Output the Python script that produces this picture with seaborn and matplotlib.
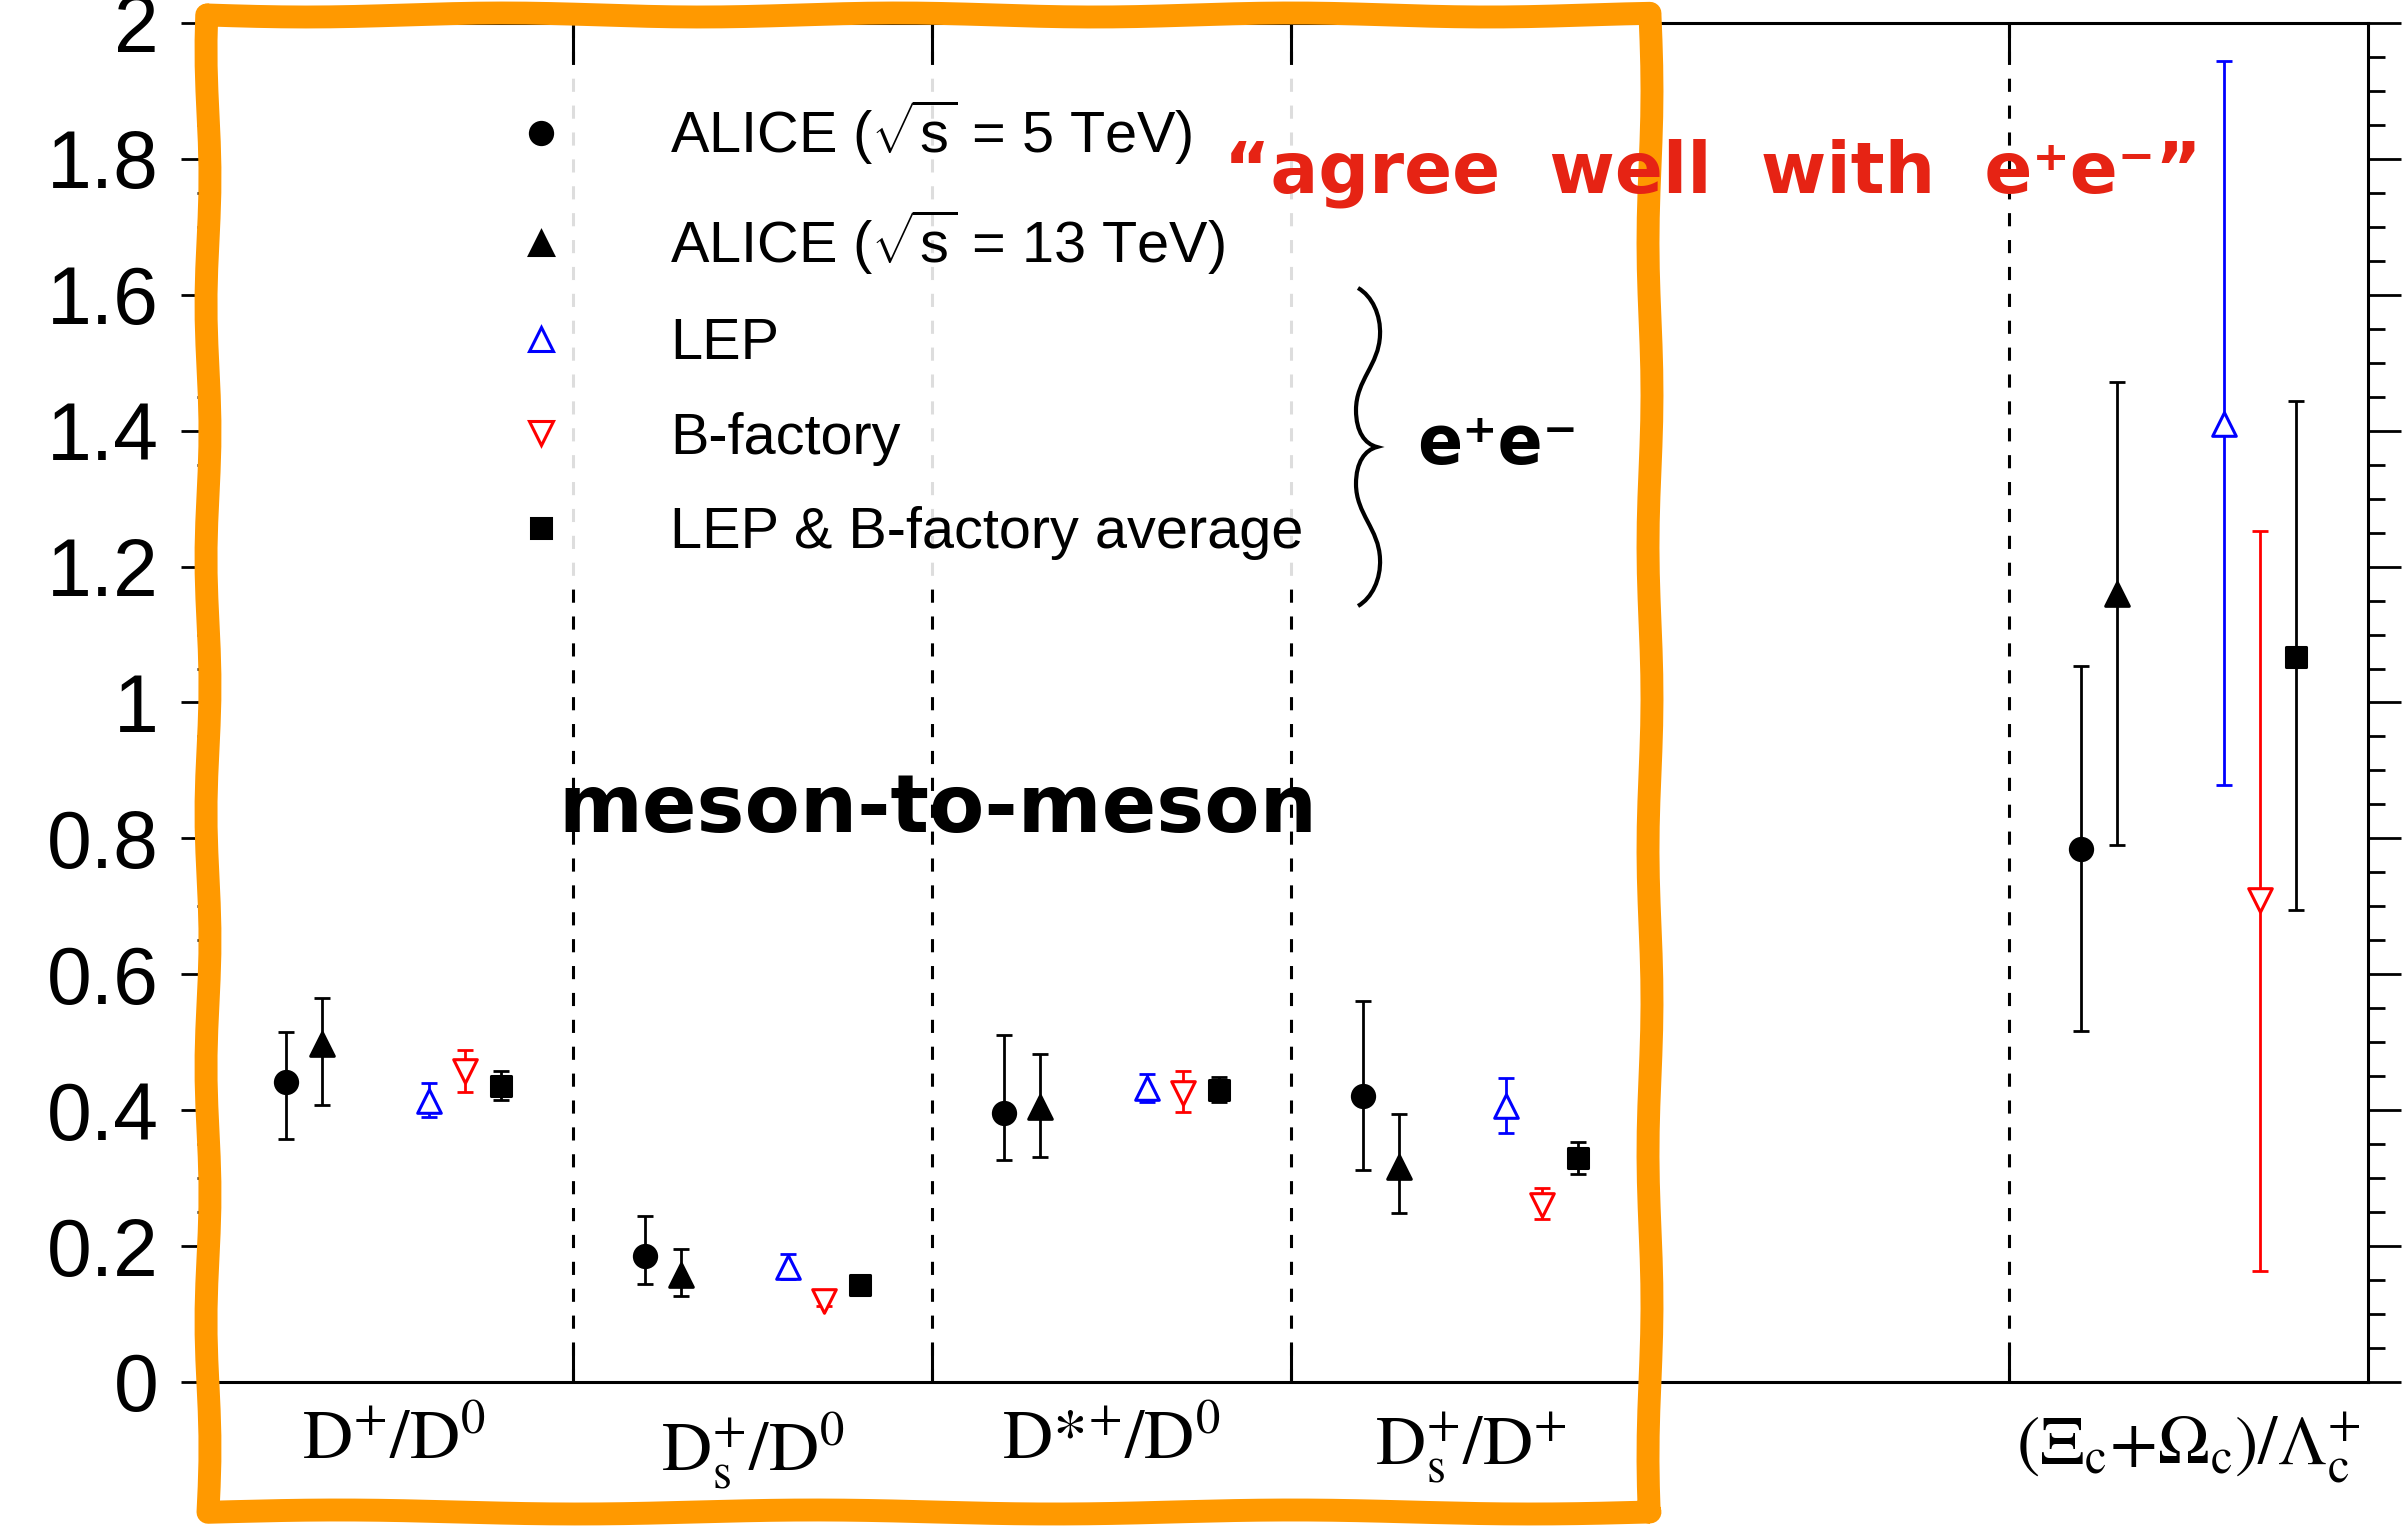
import numpy as np
import pandas as pd
import matplotlib
matplotlib.use("Agg")
import matplotlib.pyplot as plt
import seaborn as sns
from matplotlib.lines import Line2D
from matplotlib.path import Path
from matplotlib.patches import PathPatch
from matplotlib.font_manager import FontProperties
from matplotlib.ticker import MultipleLocator, FuncFormatter

# ---------------- data ----------------
category_labels = [
    r"D$^{+}$/D$^{0}$",
    r"D$_{\mathrm{s}}^{+}$/D$^{0}$",
    r"D*$^{+}$/D$^{0}$",
    r"D$_{\mathrm{s}}^{+}$/D$^{+}$",
    r"($\Xi_{\mathrm{c}}$+$\Omega_{\mathrm{c}}$)/$\Lambda_{\mathrm{c}}^{+}$",
]
category_pos = [0, 1, 2, 3, 5]
separator_pos = [0.5, 1.5, 2.5, 3.5, 4.5]

series_names = ["ALICE5", "ALICE13", "LEP", "Bfactory", "Average"]
legend_labels = [
    r"ALICE ($\sqrt{\mathrm{s}}$ = 5 TeV)",
    r"ALICE ($\sqrt{\mathrm{s}}$ = 13 TeV)",
    "LEP",
    "B-factory",
    "LEP & B-factory average",
]

alice5_val = [0.442, 0.186, 0.396, 0.421, 0.784]
alice5_lo = [0.358, 0.144, 0.326, 0.312, 0.516]
alice5_hi = [0.515, 0.244, 0.510, 0.561, 1.054]

alice13_val = [0.497, 0.157, 0.405, 0.317, 1.159]
alice13_lo = [0.408, 0.126, 0.331, 0.249, 0.791]
alice13_hi = [0.565, 0.196, 0.483, 0.395, 1.472]

lep_val = [0.414, 0.169, 0.433, 0.406, 1.410]
lep_lo = [0.390, 0.152, 0.412, 0.367, 0.879]
lep_hi = [0.440, 0.188, 0.454, 0.448, 1.944]

bf_val = [0.458, 0.119, 0.426, 0.261, 0.709]
bf_lo = [0.427, 0.112, 0.398, 0.240, 0.163]
bf_hi = [0.488, 0.126, 0.458, 0.285, 1.252]

avg_val = [0.435, 0.143, 0.430, 0.329, 1.067]
avg_lo = [0.415, 0.138, 0.412, 0.306, 0.694]
avg_hi = [0.457, 0.148, 0.449, 0.353, 1.443]

values = [alice5_val, alice13_val, lep_val, bf_val, avg_val]
lows = [alice5_lo, alice13_lo, lep_lo, bf_lo, avg_lo]
highs = [alice5_hi, alice13_hi, lep_hi, bf_hi, avg_hi]

# ---------------- styles ----------------
offsets = [-0.3, -0.2, 0.1, 0.2, 0.3]
markers = ["o", "^", "^", "v", "s"]
face = ["black", "black", "white", "white", "black"]
edge = ["black", "black", "#0000FF", "#FF0000", "black"]
msize = [16, 17, 17, 17, 15]

rows = []
for i, name in enumerate(series_names):
    for j, pos in enumerate(category_pos):
        rows.append(dict(series=name, x=pos + offsets[i], val=values[i][j],
                         lo=lows[i][j], hi=highs[i][j]))
df = pd.DataFrame(rows)

sns.set_theme(style="white")
plt.rcParams["font.family"] = ["Liberation Sans", "DejaVu Sans"]
plt.rcParams["mathtext.fontset"] = "custom"
plt.rcParams["mathtext.rm"] = "Liberation Sans"
plt.rcParams["mathtext.it"] = "Liberation Sans:italic"
plt.rcParams["mathtext.bf"] = "Liberation Sans:bold"
for key in ["text.color", "axes.labelcolor", "xtick.color", "ytick.color",
            "axes.edgecolor"]:
    plt.rcParams[key] = "black"

W, H = 2407, 1527
fig = plt.figure(figsize=(W / 100, H / 100), dpi=100)
ax = fig.add_axes([214 / W, 1 - 1382 / H, (2368 - 214) / W, (1382 - 23) / H])

for i, name in enumerate(series_names):
    sub = df[df.series == name]
    ax.errorbar(sub.x, sub.val, yerr=[sub.val - sub.lo, sub.hi - sub.val],
                fmt="none", ecolor=edge[i], elinewidth=2.0, capsize=6,
                capthick=2.0, zorder=3)
    sns.scatterplot(data=sub, x="x", y="val", marker=markers[i],
                    s=msize[i] ** 2, color=face[i], edgecolor=edge[i],
                    linewidth=2.2, ax=ax, zorder=4, legend=False)

ax.vlines(separator_pos, 0, 2, colors="black", linestyles=(0, (4.3, 4.5)),
          linewidth=2.2, zorder=1)

ax.set_xlim(-0.5, 5.5)
ax.set_ylim(0, 2)
ax.set_xlabel("")
ax.set_ylabel("")

for s in ax.spines.values():
    s.set_visible(True)
    s.set_linewidth(2.2)
    s.set_color("black")

ax.yaxis.set_major_locator(MultipleLocator(0.2))
ax.yaxis.set_minor_locator(MultipleLocator(0.05))
ax.yaxis.set_major_formatter(FuncFormatter(lambda v, p: f"{v:g}"))
ax.tick_params(axis="y", which="major", direction="out", length=24, width=2.0,
               left=True, right=True, labelleft=True, labelright=False,
               pad=16, labelsize=58, colors="black")
ax.tick_params(axis="y", which="minor", direction="out", length=12, width=2.0,
               left=True, right=True, colors="black")

ax.set_xticks(separator_pos)
ax.set_xticklabels([])
ax.set_xticks(category_pos, minor=True)
ax.set_xticklabels(category_labels, minor=True)
ax.tick_params(axis="x", which="major", direction="in", length=27, width=2.2,
               top=True, bottom=True, colors="black")
ax.tick_params(axis="x", which="minor", length=0, pad=21, labelsize=50,
               colors="black")
for lab in ax.get_xticklabels(minor=True):
    lab.set_fontfamily("STIXGeneral")
    lab.set_math_fontfamily("stix")

# legend
handles = []
for i in range(5):
    handles.append(Line2D([], [], ls="none", marker=markers[i], markersize=msize[i],
                          markerfacecolor=face[i], markeredgecolor=edge[i],
                          markeredgewidth=2.2))
leg = ax.legend(handles, legend_labels, loc="upper left",
                bbox_to_anchor=(0.1142, 0.9620), borderaxespad=0,
                prop=FontProperties(family="Liberation Sans", size=41.5),
                handlelength=2.0, handletextpad=1.25, labelspacing=0.70,
                borderpad=0.4, frameon=True, fancybox=False)
leg.get_frame().set_facecolor("white")
leg.get_frame().set_alpha(0.87)
leg.get_frame().set_edgecolor("none")
for txt in leg.get_texts():
    txt.set_color("black")


def fx(x):
    return x / W


def fy(y):
    return 1 - y / H


# orange hand-drawn frame
xl, xr, yt, yb = 208, 1650, 15, 1512
pts_x, pts_y = [], []
n = 60
t = np.linspace(0, 1, n)
pts_x += list(xl + (xr - xl) * t); pts_y += list(yt + 2.0 * np.sin(t * 23))
pts_x += list(xr + 2.0 * np.sin(t * 31)); pts_y += list(yt + (yb - yt) * t)
pts_x += list(xr - (xr - xl) * t); pts_y += list(yb + 2.0 * np.sin(t * 19))
pts_x += list(xl + 2.0 * np.sin(t * 37)); pts_y += list(yb - (yb - yt) * t)
frame = Line2D(fx(np.array(pts_x)), fy(np.array(pts_y)), transform=fig.transFigure,
               color="#FF9900", lw=16.5, solid_joinstyle="round",
               solid_capstyle="round", zorder=20)
fig.add_artist(frame)

# brace
bv = [(1358, 288), (1372, 296), (1381, 315), (1380, 335),
      (1379, 365), (1356, 380), (1356, 410),
      (1356, 432), (1365, 444), (1377, 447),
      (1365, 450), (1356, 462), (1356, 484),
      (1356, 514), (1379, 529), (1380, 559),
      (1381, 579), (1372, 598), (1358, 606)]
codes = [Path.MOVETO] + [Path.CURVE4] * (len(bv) - 1)
brace = PathPatch(Path([(fx(a), fy(b)) for a, b in bv], codes),
                  transform=fig.transFigure, fill=False, lw=3.0,
                  edgecolor="black", zorder=21)
fig.add_artist(brace)

fig.text(fx(1498), fy(445), "e\u207ae\u207b", ha="center", va="center",
         fontsize=48, fontweight="bold", family="DejaVu Sans", color="black",
         zorder=25)
fig.text(fx(938), fy(832), "meson-to-meson", ha="center", va="baseline",
         fontsize=58, fontweight="bold", family="DejaVu Sans", color="black",
         zorder=25)
fig.text(fx(1713), fy(192), "\u201cagree  well  with  e\u207ae\u207b\u201d",
         ha="center", va="baseline", fontsize=51, fontweight="bold",
         family="DejaVu Sans", color="#E62314", zorder=25)

fig.savefig("out.png", dpi=100, facecolor="white")
